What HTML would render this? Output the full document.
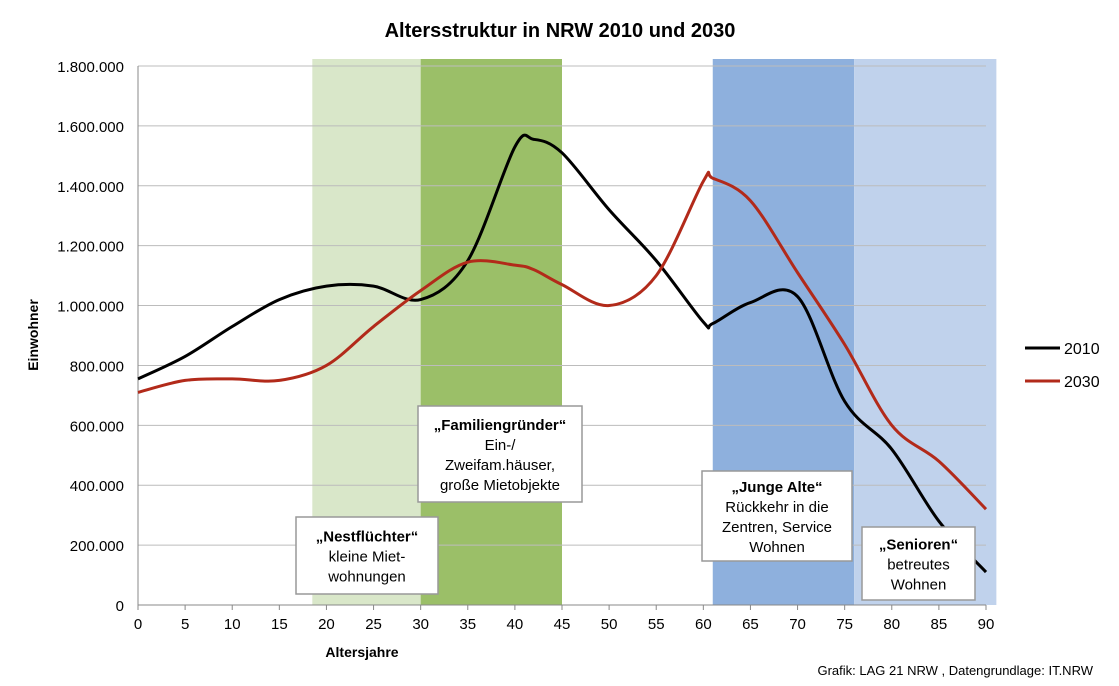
<!DOCTYPE html>
<html><head><meta charset="utf-8"><style>
body{margin:0;background:#fff;font-family:"Liberation Sans",sans-serif}
svg text{font-family:"Liberation Sans",sans-serif}
</style></head><body>
<svg id="chart" width="1119" height="681">
<text x="560" y="37" text-anchor="middle" font-size="20" font-weight="bold">Altersstruktur in NRW 2010 und 2030</text>
<g id="bands"></g><g id="grid"></g><g id="lines"></g><g id="labels"></g>
<text x="362" y="657" text-anchor="middle" font-size="14" font-weight="bold">Altersjahre</text>
<text transform="translate(38,335) rotate(-90)" text-anchor="middle" font-size="14" font-weight="bold">Einwohner</text>
<text x="1093" y="675" text-anchor="end" font-size="13">Grafik: LAG 21 NRW , Datengrundlage: IT.NRW</text>
<g><line x1="1025" y1="348" x2="1060" y2="348" stroke="#000" stroke-width="3"/><text x="1064" y="354" font-size="16">2010</text></g>
<g><line x1="1025" y1="381" x2="1060" y2="381" stroke="#b22a1a" stroke-width="3"/><text x="1064" y="387" font-size="16">2030</text></g>
</svg>
<script>
const ages=[0,5,10,15,20,25,30,35,40,42,45,50,55,60,61,65,70,75,80,85,90];
const pop2010=[755000,830000,930000,1020000,1065000,1065000,1020000,1150000,1530000,1555000,1510000,1320000,1150000,945000,940000,1010000,1030000,680000,520000,280000,110000];
const pop2030=[710000,750000,755000,750000,800000,930000,1050000,1145000,1135000,1120000,1070000,1000000,1100000,1415000,1425000,1350000,1110000,870000,600000,480000,320000];
const yTicks=[0,200000,400000,600000,800000,1000000,1200000,1400000,1600000,1800000];
const xTicks=[0,5,10,15,20,25,30,35,40,45,50,55,60,65,70,75,80,85,90];
const bandStarts=[18.5,30,61,76];
const bandEnds=[30,45,76,91.1];
const bandColors=["#d9e7c9","#9bbf68","#8eb0dd","#c0d2ec"];
const notes=[
 {n:"nestfluechter",x:296,y:517,w:142,h:77,t:["„Nestflüchter“","kleine Miet-","wohnungen"]},
 {n:"familiengruender",x:418,y:406,w:164,h:96,t:["„Familiengründer“","Ein-/","Zweifam.häuser,","große Mietobjekte"]},
 {n:"junge-alte",x:702,y:471,w:150,h:90,t:["„Junge Alte“","Rückkehr in die","Zentren, Service","Wohnen"]},
 {n:"senioren",x:862,y:527,w:113,h:73,t:["„Senioren“","betreutes","Wohnen"]}];
const X=a=>138+a*(986-138)/90, Y=v=>605-v*(605-66)/1800000;
const NS="http://www.w3.org/2000/svg";
function mk(p,tag,at){const e=document.createElementNS(NS,tag);for(const k in at)e.setAttribute(k,at[k]);document.getElementById(p).appendChild(e);return e;}
bandStarts.forEach((s,i)=>{const r=mk("bands","rect",{x:X(s),y:59,width:X(bandEnds[i])-X(s),height:546,fill:bandColors[i]});

});
yTicks.forEach(v=>{const l=mk("grid","line",{x1:138,x2:986,y1:Y(v),y2:Y(v),stroke:v?"#bcbcbc":"#888","stroke-width":1});


const t=mk("grid","text",{x:124,y:Y(v)+6,"text-anchor":"end","font-size":15});t.textContent=v.toLocaleString("de-DE");

});
mk("grid","line",{x1:138,x2:138,y1:66,y2:610,stroke:"#888"});
xTicks.forEach(a=>{const l=mk("grid","line",{x1:X(a),x2:X(a),y1:605,y2:610,stroke:"#888"});


const t=mk("grid","text",{x:X(a),y:629,"text-anchor":"middle","font-size":15});t.textContent=a;

});
function path(vals){const p=ages.map((a,i)=>[X(a),Y(vals[i])]);let d="M"+p[0];
for(let i=0;i<p.length-1;i++){const p0=p[i-1]||p[i],p1=p[i],p2=p[i+1],p3=p[i+2]||p2;
d+=` C${p1[0]+(p2[0]-p0[0])/6},${p1[1]+(p2[1]-p0[1])/6} ${p2[0]-(p3[0]-p1[0])/6},${p2[1]-(p3[1]-p1[1])/6} ${p2[0]},${p2[1]}`;}return d;}
const l1=mk("lines","path",{d:path(pop2010),fill:"none",stroke:"#000","stroke-width":3});


const l2=mk("lines","path",{d:path(pop2030),fill:"none",stroke:"#b22a1a","stroke-width":3});


notes.forEach(o=>{const g=mk("labels","g",{});


const r=document.createElementNS(NS,"rect");[["x",o.x],["y",o.y],["width",o.w],["height",o.h],["fill","#fff"],["stroke","#999"],["stroke-width",1.5]].forEach(([k,v])=>r.setAttribute(k,v));g.appendChild(r);
const n=o.t.length,start=o.y+o.h/2-(n-1)*10+6;
o.t.forEach((s,i)=>{const t=document.createElementNS(NS,"text");t.setAttribute("x",o.x+o.w/2);t.setAttribute("y",start+i*20);t.setAttribute("text-anchor","middle");t.setAttribute("font-size",15);if(i==0)t.setAttribute("font-weight","bold");t.textContent=s;g.appendChild(t);});});
</script>
</body></html>
